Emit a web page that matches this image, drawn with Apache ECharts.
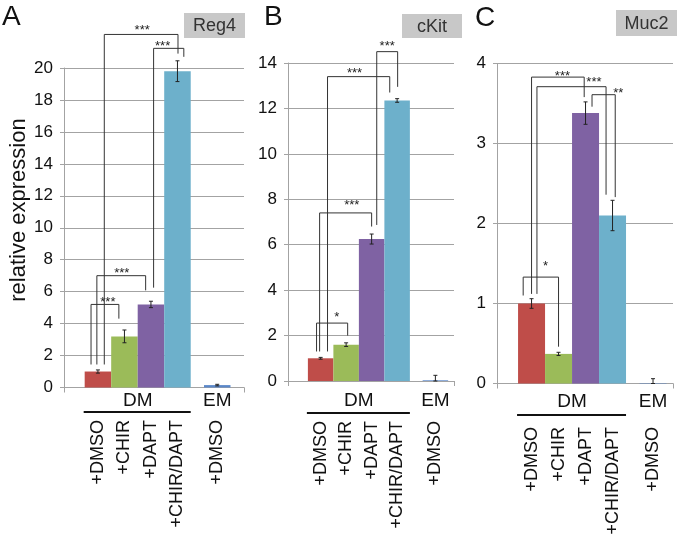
<!DOCTYPE html>
<html><head><meta charset="utf-8">
<script src="https://cdn.jsdelivr.net/npm/echarts@6/dist/echarts.min.js"></script>
<style>html,body{margin:0;padding:0;background:#fff}#chart{width:678px;height:541px}</style>
</head><body><div id="chart"></div>
<script>
// ---------- data ----------
const panelLetters = ['A', 'B', 'C'];
const geneNames = ['Reg4', 'cKit', 'Muc2'];
const yAxisTitle = 'relative expression';
const groupNames = ['DM', 'EM'];
const treatments = ['+DMSO', '+CHIR', '+DAPT', '+CHIR/DAPT', '+DMSO'];
const treatmentGroup = [0, 0, 0, 0, 1];

const reg4Values = [1.0, 3.2, 5.2, 19.8, 0.15];
const reg4Errors = [0.1, 0.4, 0.2, 0.65, 0.05];
const ckitValues = [1.0, 1.6, 6.25, 12.35, 0.03];
const ckitErrors = [0.04, 0.08, 0.22, 0.08, 0.22];
const muc2Values = [1.0, 0.37, 3.38, 2.1, 0.005];
const muc2Errors = [0.06, 0.02, 0.14, 0.19, 0.055];

const reg4YTicks = [0, 2, 4, 6, 8, 10, 12, 14, 16, 18, 20];
const ckitYTicks = [0, 2, 4, 6, 8, 10, 12, 14];
const muc2YTicks = [0, 1, 2, 3, 4];

// significance brackets: bar indices, top level, leg end levels, label
const reg4Brackets = [
  { from: 0, to: 1, top: 5.2, fromEnd: 1.44, toEnd: 4.31, label: '***' },
  { from: 0, to: 2, top: 7.0, fromEnd: 1.44, toEnd: 6.08, label: '***' },
  { from: 0, to: 3, top: 22.1, fromEnd: 1.44, toEnd: 20.9, label: '***' },
  { from: 2, to: 3, top: 21.23, fromEnd: 6.25, toEnd: 20.7, label: '***' }
];
const ckitBrackets = [
  { from: 0, to: 1, top: 2.55, fromEnd: 1.3, toEnd: 2.0, label: '*' },
  { from: 0, to: 2, top: 7.4, fromEnd: 1.3, toEnd: 6.8, label: '***' },
  { from: 0, to: 3, top: 13.4, fromEnd: 1.3, toEnd: 12.7, label: '***' },
  { from: 2, to: 3, top: 14.5, fromEnd: 6.87, toEnd: 12.95, label: '***' }
];
const muc2Brackets = [
  { from: 0, to: 1, top: 1.33, fromEnd: 1.1, toEnd: 0.46, label: '*' },
  { from: 0, to: 2, top: 3.83, fromEnd: 1.12, toEnd: 3.58, label: '***' },
  { from: 0, to: 3, top: 3.71, fromEnd: 1.12, toEnd: 2.36, label: '***' },
  { from: 2, to: 3, top: 3.61, fromEnd: 3.46, toEnd: 2.33, label: '**' }
];

// ---------- layout / style (not data) ----------
const barColors = ['#BF4D49', '#9BBB59', '#7F62A3', '#6DB0CB', '#5A87C9'];
const reg4LegOffsets = [[-0.26, -0.21], [-0.04, -0.2], [0.24, 0.02], [0.1, 0.24]];
const ckitLegOffsets = [[-0.16, 0.06], [-0.04, 0], [0.27, -0.29], [0.2, 0.02]];
const muc2LegOffsets = [[-0.31, 0], [0, -0.05], [0.2, -0.24], [0.24, 0.1]];
// label horizontal shift (bar widths), lift above line (px)
const reg4LabelShift = [[0.11, 6], [0.02, 6], [0.04, 8], [-0.23, 6]];
const ckitLabelShift = [[0.18, 10], [0.24, 11], [-0.16, 7], [0, 9]];
const muc2LabelShift = [[0.17, 15], [0.17, 5], [0.83, 8], [0.54, 5]];

const FONT = 'Liberation Sans, Arial, Helvetica, sans-serif';
const GRID_COLOR = '#a3a3a3';
const firstCenter = 1.28, emGap = 0.5;
function pos(i) { return firstCenter + i + (treatmentGroup[i] > 0 ? emGap : 0); }

const panels = [
  { values: reg4Values, errors: reg4Errors, ticks: reg4YTicks, brackets: reg4Brackets, legs: reg4LegOffsets, shift: reg4LabelShift,
    grid: { left: 64, top: 68, width: 180, height: 319.5 }, xMax: 6.79, rows: { group: 401, line: 412, names: 420 },
    letter: { x: 2, y: 17 }, box: { x: 184, y: 13, w: 61, h: 25 } },
  { values: ckitValues, errors: ckitErrors, ticks: ckitYTicks, brackets: ckitBrackets, legs: ckitLegOffsets, shift: ckitLabelShift,
    grid: { left: 288, top: 63, width: 166, height: 318 }, xMax: 6.51, rows: { group: 401, line: 413, names: 421 },
    letter: { x: 264, y: 17 }, box: { x: 402, y: 14, w: 60, h: 24 } },
  { values: muc2Values, errors: muc2Errors, ticks: muc2YTicks, brackets: muc2Brackets, legs: muc2LegOffsets, shift: muc2LabelShift,
    grid: { left: 497, top: 63.5, width: 176, height: 320 }, xMax: 6.52, rows: { group: 402, line: 415, names: 427 },
    letter: { x: 475, y: 18 }, box: { x: 616, y: 10, w: 61, h: 26 } }
];

const grids = [], xAxes = [], yAxes = [], series = [], graphics = [];

panels.forEach((p, k) => {
  grids.push(Object.assign({ containLabel: false }, p.grid));
  xAxes.push({
    type: 'value', gridIndex: k, min: 0, max: p.xMax, interval: p.xMax,
    axisLabel: { show: false }, splitLine: { show: false },
    axisLine: { show: true, lineStyle: { color: GRID_COLOR, width: 1 } },
    axisTick: { show: true, length: 5, lineStyle: { color: GRID_COLOR } }
  });
  yAxes.push({
    type: 'value', gridIndex: k, min: p.ticks[0], max: p.ticks[p.ticks.length - 1], interval: p.ticks[1] - p.ticks[0],
    axisLabel: { fontSize: 17, color: '#111', fontFamily: FONT, margin: 11 },
    axisLine: { show: true, lineStyle: { color: GRID_COLOR } },
    axisTick: { show: true, length: 4, lineStyle: { color: GRID_COLOR } },
    splitLine: { show: true, lineStyle: { color: GRID_COLOR, width: 1 } }
  });
  const bw = p.grid.width / p.xMax;
  series.push({
    type: 'bar', xAxisIndex: k, yAxisIndex: k, barWidth: bw, z: 2,
    data: p.values.map((v, i) => ({ value: [pos(i), v], itemStyle: { color: barColors[i] } }))
  });
  // error bars
  series.push({
    type: 'custom', xAxisIndex: k, yAxisIndex: k, z: 3, clip: false, silent: true,
    data: p.values.map((v, i) => [pos(i), v, p.errors[i]]),
    renderItem: (params, api) => {
      const x = api.value(0), v = api.value(1), e = api.value(2);
      const t = api.coord([x, v + e]), b = api.coord([x, Math.max(0, v - e)]);
      const s = { stroke: '#222', lineWidth: 1 };
      return { type: 'group', children: [
        { type: 'line', shape: { x1: t[0], y1: t[1], x2: b[0], y2: b[1] }, style: s },
        { type: 'line', shape: { x1: t[0] - 2, y1: t[1], x2: t[0] + 2, y2: t[1] }, style: s },
        { type: 'line', shape: { x1: b[0] - 2, y1: b[1], x2: b[0] + 2, y2: b[1] }, style: s }
      ] };
    }
  });
  // brackets
  series.push({
    type: 'custom', xAxisIndex: k, yAxisIndex: k, z: 4, clip: false, silent: true,
    data: p.brackets.map(b => [pos(b.from), b.top]),
    renderItem: (params, api) => {
      const j = params.dataIndex, b = p.brackets[j], off = p.legs[j], sh = p.shift[j];
      const lx = pos(b.from) + off[0], rx = pos(b.to) + off[1];
      const pts = [api.coord([lx, b.fromEnd]), api.coord([lx, b.top]), api.coord([rx, b.top]), api.coord([rx, b.toEnd])];
      const mid = api.coord([(lx + rx) / 2 + sh[0], b.top]);
      return { type: 'group', children: [
        { type: 'polyline', shape: { points: pts }, style: { stroke: '#333', lineWidth: 1, fill: 'none' } },
        { type: 'text', x: mid[0], y: mid[1] - sh[1] + 4,
          style: { text: b.label, fontSize: 13, fontFamily: FONT, fill: '#222', align: 'center', verticalAlign: 'middle' } }
      ] };
    }
  });
  // treatment labels (rotated)
  series.push({
    type: 'custom', xAxisIndex: k, yAxisIndex: k, z: 4, clip: false, silent: true,
    data: treatments.map((t, i) => [pos(i), 0]),
    renderItem: (params, api) => {
      const c = api.coord([api.value(0), 0]);
      return { type: 'text', x: c[0], y: p.rows.names, rotation: Math.PI / 2,
        style: { text: treatments[params.dataIndex], fontSize: 18, fontFamily: FONT, fill: '#111', align: 'right', verticalAlign: 'middle' } };
    }
  });
  // group labels and underline
  series.push({
    type: 'custom', xAxisIndex: k, yAxisIndex: k, z: 4, clip: false, silent: true,
    data: groupNames.map((g, gi) => [gi, 0]),
    renderItem: (params, api) => {
      const gi = params.dataIndex;
      const idx = treatmentGroup.map((g, i) => g === gi ? i : -1).filter(i => i >= 0);
      const x0 = pos(idx[0]) - 0.5, x1 = pos(idx[idx.length - 1]) + 0.5;
      const c0 = api.coord([x0, 0]), c1 = api.coord([x1, 0]);
      const children = [{ type: 'text', x: (c0[0] + c1[0]) / 2, y: p.rows.group,
        style: { text: groupNames[gi], fontSize: 19, fontFamily: FONT, fill: '#111', align: 'center', verticalAlign: 'middle' } }];
      if (idx.length > 1) {
        children.push({ type: 'line', shape: { x1: c0[0] - 1, y1: p.rows.line, x2: c1[0], y2: p.rows.line }, style: { stroke: '#111', lineWidth: 2 } });
      }
      return { type: 'group', children };
    }
  });
  // panel letter and gene box
  graphics.push({ type: 'text', left: null, x: p.letter.x, y: p.letter.y,
    style: { text: panelLetters[k], fontSize: 28, fontFamily: FONT, fill: '#111', align: 'left', verticalAlign: 'middle' } });
  graphics.push({ type: 'rect', x: p.box.x, y: p.box.y, shape: { width: p.box.w, height: p.box.h }, style: { fill: '#c8c8c8' } });
  graphics.push({ type: 'text', x: p.box.x + p.box.w / 2, y: p.box.y + p.box.h / 2 + 1,
    style: { text: geneNames[k], fontSize: 18, fontFamily: FONT, fill: '#333', align: 'center', verticalAlign: 'middle' } });
});

graphics.push({ type: 'text', x: 19, y: 210, rotation: Math.PI / 2,
  style: { text: yAxisTitle, fontSize: 22, fontFamily: FONT, fill: '#111', align: 'center', verticalAlign: 'middle' } });

const chart = echarts.init(document.getElementById('chart'), null, { renderer: 'canvas' });
chart.setOption({
  backgroundColor: '#ffffff',
  animation: false,
  grid: grids, xAxis: xAxes, yAxis: yAxes, series: series, graphic: graphics
});
</script>
</body></html>
